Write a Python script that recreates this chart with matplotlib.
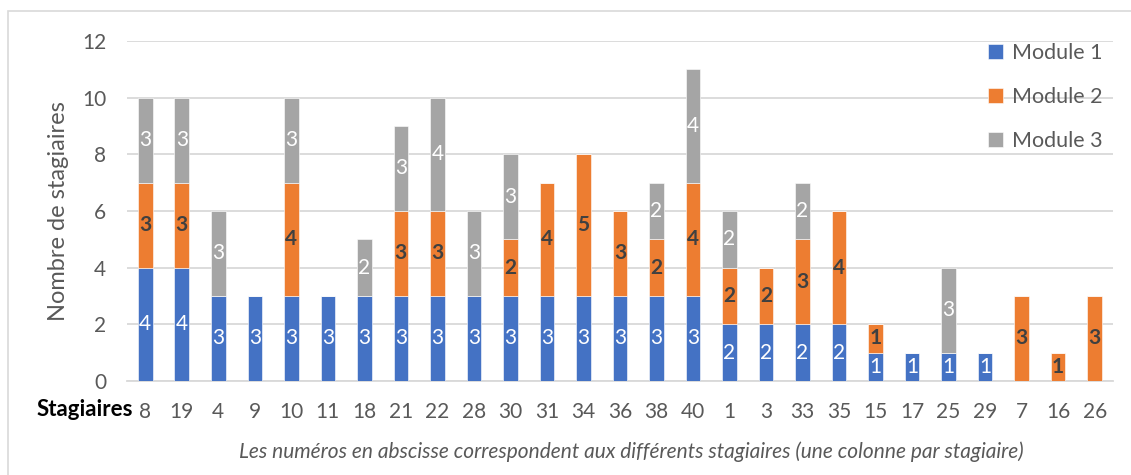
import numpy as np
import matplotlib.pyplot as plt
from matplotlib.patches import Rectangle

plt.rcParams['font.family'] = ['Lato', 'DejaVu Sans']

stagiaires = ['8', '19', '4', '9', '10', '11', '18', '21', '22', '28', '30', '31', '34', '36',
              '38', '40', '1', '3', '33', '35', '15', '17', '25', '29', '7', '16', '26']
module1 = [4, 4, 3, 3, 3, 3, 3, 3, 3, 3, 3, 3, 3, 3, 3, 3, 2, 2, 2, 2, 1, 1, 1, 1, 0, 0, 0]
module2 = [3, 3, 0, 0, 4, 0, 0, 3, 3, 0, 2, 4, 5, 3, 2, 4, 2, 2, 3, 4, 1, 0, 0, 0, 3, 1, 3]
module3 = [3, 3, 3, 0, 3, 0, 2, 3, 4, 3, 3, 0, 0, 0, 2, 4, 2, 0, 2, 0, 0, 0, 3, 0, 0, 0, 0]

couleurs = ['#4472C4', '#ED7D31', '#A5A5A5']
gris = '#595959'

fig = plt.figure(figsize=(11.31, 4.75), dpi=100)
ax = fig.add_axes([0.1123, 0.198, 0.8717, 0.7157])

x = np.arange(len(stagiaires))
m1 = np.array(module1)
m2 = np.array(module2)
m3 = np.array(module3)

ax.bar(x, m1, 0.4, color=couleurs[0], edgecolor='white', linewidth=0.4, label='Module 1', zorder=3)
ax.bar(x, m2, 0.4, bottom=m1, color=couleurs[1], edgecolor='white', linewidth=0.4, label='Module 2', zorder=3)
ax.bar(x, m3, 0.4, bottom=m1 + m2, color=couleurs[2], edgecolor='white', linewidth=0.4, label='Module 3', zorder=3)

# etiquettes dans les barres
for i in range(len(x)):
    if m1[i] > 0:
        ax.text(x[i], m1[i] / 2, str(m1[i]), ha='center', va='center', color='white', fontsize=15, zorder=4)
    if m2[i] > 0:
        ax.text(x[i], m1[i] + m2[i] / 2, str(m2[i]), ha='center', va='center', color='#404040',
                fontsize=15, fontweight='bold', zorder=4)
    if m3[i] > 0:
        ax.text(x[i], m1[i] + m2[i] + m3[i] / 2, str(m3[i]), ha='center', va='center', color='white',
                fontsize=15, zorder=4)

ax.set_xlim(-0.5, len(x) - 0.5)
ax.set_ylim(0, 12)
ax.set_yticks(range(0, 13, 2))
ax.set_xticks(x)
ax.set_xticklabels(stagiaires)
ax.yaxis.grid(True, color='#D9D9D9', linewidth=1.3, zorder=0)
ax.set_axisbelow(True)
for s in ['top', 'right', 'left']:
    ax.spines[s].set_visible(False)
ax.spines['bottom'].set_color('#D9D9D9')
ax.spines['bottom'].set_linewidth(1.3)
ax.tick_params(axis='both', length=0, colors=gris, labelsize=15)
ax.tick_params(axis='x', pad=15)
ax.tick_params(axis='y', pad=15)
ax.set_ylabel('Nombre de stagiaires', fontsize=17, color=gris, labelpad=9)

fig.text(0.1176, 0.137, 'Stagiaires', ha='right', va='center', fontsize=16, fontweight='bold', color='black')
fig.text(0.558, 0.048, "Les numéros en abscisse correspondent aux différents stagiaires (une colonne par stagiaire)",
         ha='center', va='center', fontsize=15, style='italic', color=gris)

leg = ax.legend(loc='upper right', bbox_to_anchor=(1.0, 1.025), frameon=False, fontsize=15.5,
                handlelength=0.7, handleheight=0.7, handletextpad=0.4, labelspacing=1.12,
                borderaxespad=0.1)
for t in leg.get_texts():
    t.set_color(gris)

# cadre du graphique
fig.patches.append(Rectangle((8 / 1131, -0.1), 1.2, 1.1 - 11 / 475, transform=fig.transFigure,
                             fill=False, edgecolor='#D9D9D9', linewidth=1.2))

fig.savefig('out.png', dpi=100)
